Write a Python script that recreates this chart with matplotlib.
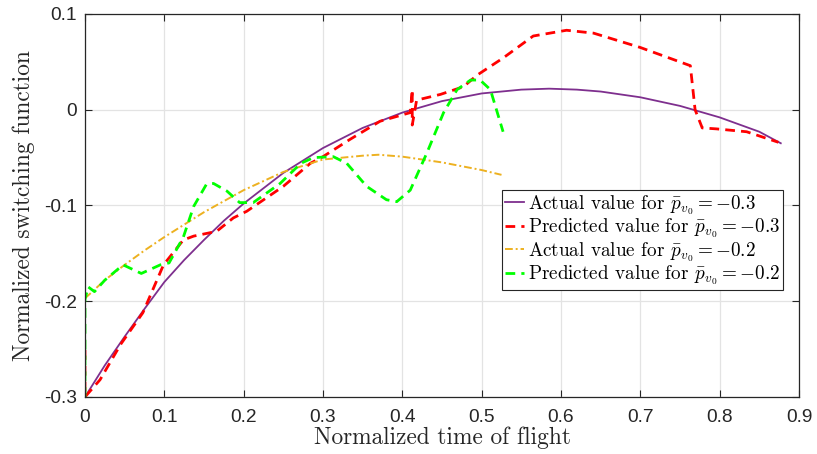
import matplotlib
matplotlib.use("Agg")
import matplotlib.pyplot as plt

plt.rcParams['mathtext.fontset'] = 'cm'
plt.rcParams['axes.unicode_minus'] = False

# actual value, p_v0 = -0.3 (purple)
t_act3 = [0, 0.025, 0.05, 0.075, 0.1, 0.125, 0.15, 0.175, 0.2, 0.25, 0.3, 0.35, 0.4,
          0.45, 0.5, 0.55, 0.585, 0.62, 0.65, 0.7, 0.75, 0.8, 0.85, 0.877]
s_act3 = [-0.300, -0.267, -0.237, -0.208, -0.180, -0.157, -0.136, -0.116, -0.098,
          -0.066, -0.040, -0.019, -0.003, 0.009, 0.017, 0.021, 0.022, 0.021, 0.019,
          0.013, 0.004, -0.008, -0.023, -0.035]

# predicted value, p_v0 = -0.3 (red)
t_pred3 = [0, 0, 0.019, 0.045, 0.073, 0.099, 0.124, 0.137, 0.166, 0.187, 0.204, 0.25,
           0.284, 0.3, 0.334, 0.372, 0.41, 0.4125, 0.4125, 0.418, 0.448, 0.477, 0.494,
           0.527, 0.565, 0.607, 0.641, 0.70, 0.763, 0.769, 0.778, 0.796, 0.834, 0.874]
s_pred3 = [-0.251, -0.300, -0.282, -0.245, -0.212, -0.162, -0.136, -0.132, -0.127,
           -0.113, -0.106, -0.080, -0.056, -0.049, -0.031, -0.012, -0.003, 0.021,
           -0.016, 0.010, 0.016, 0.024, 0.036, 0.054, 0.077, 0.083, 0.080, 0.065,
           0.046, 0.000, -0.019, -0.020, -0.023, -0.034]

# actual value, p_v0 = -0.2 (orange)
t_act2 = [0, 0.025, 0.05, 0.075, 0.1, 0.125, 0.15, 0.2, 0.25, 0.3, 0.35, 0.37, 0.4,
          0.45, 0.5, 0.525]
s_act2 = [-0.197, -0.178, -0.162, -0.147, -0.133, -0.120, -0.107, -0.084, -0.065,
          -0.052, -0.048, -0.047, -0.049, -0.055, -0.063, -0.068]

# predicted value, p_v0 = -0.2 (green)
t_pred2 = [0, 0, 0.004, 0.012, 0.025, 0.048, 0.071, 0.095, 0.106, 0.124, 0.137, 0.153,
           0.162, 0.179, 0.195, 0.212, 0.246, 0.272, 0.288, 0.313, 0.33, 0.355, 0.38,
           0.393, 0.41, 0.431, 0.452, 0.469, 0.486, 0.498, 0.511, 0.527]
s_pred2 = [-0.300, -0.198, -0.185, -0.190, -0.178, -0.162, -0.171, -0.162, -0.160,
           -0.133, -0.101, -0.078, -0.077, -0.085, -0.097, -0.097, -0.077, -0.056,
           -0.050, -0.049, -0.056, -0.080, -0.094, -0.096, -0.084, -0.045, -0.003,
           0.021, 0.031, 0.031, 0.021, -0.023]

labels = [r'Actual value for $\bar{p}_{v_0}=-0.3$',
          r'Predicted value for $\bar{p}_{v_0}=-0.3$',
          r'Actual value for $\bar{p}_{v_0}=-0.2$',
          r'Predicted value for $\bar{p}_{v_0}=-0.2$']

fig = plt.figure(figsize=(8.17, 4.54), dpi=100)
ax = fig.add_axes([0.104, 0.1256, 0.874, 0.8436])

ax.plot(t_act3, s_act3, color='#7E2F8E', lw=1.3, label=labels[0])
ax.plot(t_pred3, s_pred3, color='#FF0000', lw=2.0, ls=(0, (3.5, 2.2)), label=labels[1])
ax.plot(t_act2, s_act2, color='#EDB120', lw=1.4, ls=(0, (4, 1.5, 1, 1.5)), label=labels[2])
ax.plot(t_pred2, s_pred2, color='#00FF00', lw=2.0, ls=(0, (3.5, 2.2)), label=labels[3])

ax.set_xlim(0, 0.9)
ax.set_ylim(-0.3, 0.1)
ax.set_xticks([0, 0.1, 0.2, 0.3, 0.4, 0.5, 0.6, 0.7, 0.8, 0.9])
ax.set_xticklabels(['0', '0.1', '0.2', '0.3', '0.4', '0.5', '0.6', '0.7', '0.8', '0.9'])
ax.set_yticks([-0.3, -0.2, -0.1, 0, 0.1])
ax.set_yticklabels(['-0.3', '-0.2', '-0.1', '0', '0.1'])
for lab in ax.get_xticklabels() + ax.get_yticklabels():
    lab.set_fontfamily('Liberation Sans')
    lab.set_fontsize(13.8)
    lab.set_color('#262626')
ax.tick_params(direction='in', top=True, right=True, length=5, width=0.8,
               color='#262626')
ax.tick_params(axis='x', pad=9)
ax.tick_params(axis='y', pad=6)
ax.grid(True, color='#e3e3e3', lw=0.9)
ax.set_axisbelow(True)
for sp in ax.spines.values():
    sp.set_color('#262626')
    sp.set_linewidth(0.9)

ax.set_xlabel('Normalized time of flight', fontfamily='cmr10', fontsize=16.8,
              color='#262626', labelpad=0)
ax.set_ylabel('Normalized switching function', fontfamily='cmr10', fontsize=16.8,
              color='#262626', labelpad=6)

leg = ax.legend(loc='upper right', bbox_to_anchor=(0.977, 0.54), fancybox=False,
                framealpha=1, edgecolor='#262626', handlelength=1.0,
                handletextpad=0.2, borderpad=0.15, labelspacing=0.0,
                borderaxespad=0, prop={'family': 'cmr10', 'size': 13.8})
leg.get_frame().set_linewidth(0.8)

fig.savefig('out.png', dpi=100)
